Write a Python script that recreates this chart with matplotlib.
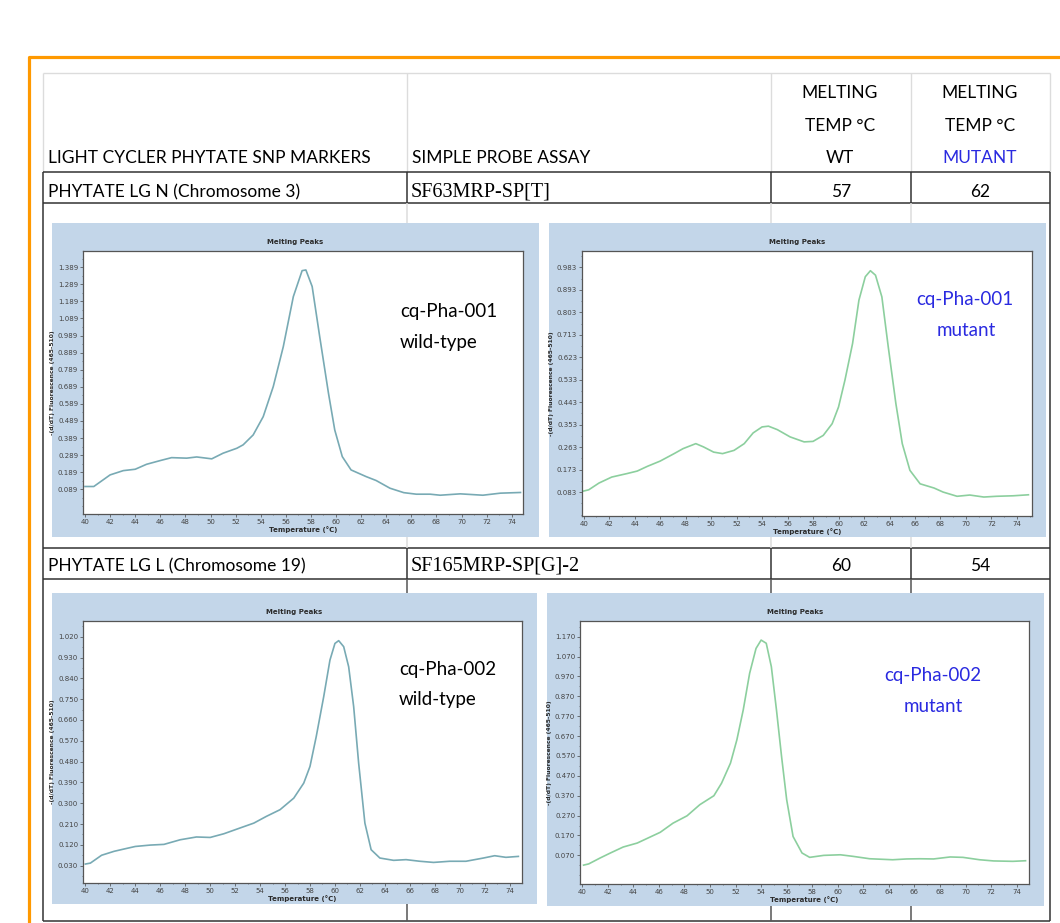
import matplotlib
matplotlib.use('Agg')
import matplotlib.pyplot as plt
from matplotlib.ticker import AutoMinorLocator

W, H = 1060, 923

# table text
header_cols = ['LIGHT CYCLER PHYTATE SNP MARKERS', 'SIMPLE PROBE ASSAY']
melt_header = ['MELTING', 'TEMP °C']
markers = ['PHYTATE LG N (Chromosome 3)', 'PHYTATE LG L (Chromosome 19)']
assays = ['SF63MRP-SP[T]', 'SF165MRP-SP[G]-2']
tm_wt = [57, 60]
tm_mut = [62, 54]

# melting peak curves
wt1_t = [40.0, 40.7, 42.0, 43.05, 44.0, 44.9, 46.0, 46.9, 48.1, 48.9, 50.1, 51.0, 52.1, 52.6,
         53.4, 54.2, 55.0, 55.8, 56.6, 57.3, 57.6, 58.1, 58.7, 59.4, 59.9, 60.5, 61.2, 62.4,
         63.2, 64.3, 65.4, 66.4, 67.5, 68.3, 69.9, 71.7, 73.1, 74.7]
wt1_v = [0.105, 0.105, 0.173, 0.198, 0.206, 0.235, 0.257, 0.274, 0.271, 0.278, 0.267, 0.300,
         0.329, 0.349, 0.407, 0.514, 0.690, 0.924, 1.217, 1.369, 1.373, 1.276, 0.983, 0.651,
         0.436, 0.280, 0.202, 0.163, 0.140, 0.095, 0.069, 0.060, 0.060, 0.054, 0.062, 0.054,
         0.066, 0.070]

mut1_t = [40.0, 40.4, 41.2, 42.2, 43.4, 44.2, 45.0, 46.0, 47.1, 47.8, 48.8, 49.4, 50.2, 50.9,
          51.8, 52.6, 53.3, 54.0, 54.5, 55.2, 56.2, 57.3, 58.0, 58.8, 59.5, 60.0, 60.5, 61.1,
          61.6, 62.1, 62.5, 62.9, 63.4, 63.9, 64.5, 65.0, 65.6, 66.4, 67.5, 68.2, 69.3, 70.3,
          71.4, 72.4, 73.7, 74.9]
mut1_v = [0.087, 0.092, 0.119, 0.143, 0.157, 0.167, 0.186, 0.207, 0.237, 0.257, 0.277, 0.264,
          0.243, 0.237, 0.250, 0.277, 0.320, 0.344, 0.347, 0.333, 0.304, 0.284, 0.286, 0.310,
          0.357, 0.424, 0.531, 0.678, 0.852, 0.946, 0.970, 0.952, 0.865, 0.665, 0.437, 0.277,
          0.170, 0.116, 0.099, 0.083, 0.066, 0.071, 0.063, 0.066, 0.068, 0.072]

wt2_t = [40.0, 40.4, 41.3, 42.3, 43.1, 44.0, 45.2, 46.3, 47.6, 48.9, 50.0, 51.1, 52.4, 53.5,
         54.5, 55.6, 56.7, 57.5, 58.0, 58.5, 59.1, 59.6, 60.0, 60.3, 60.7, 61.1, 61.5, 61.9,
         62.4, 62.9, 63.6, 64.7, 65.7, 66.8, 67.9, 69.2, 70.5, 71.9, 72.8, 73.7, 74.7]
wt2_v = [0.037, 0.041, 0.075, 0.092, 0.102, 0.113, 0.119, 0.122, 0.142, 0.154, 0.152, 0.168,
         0.193, 0.214, 0.243, 0.272, 0.322, 0.387, 0.459, 0.588, 0.761, 0.919, 0.991, 1.003,
         0.977, 0.890, 0.718, 0.473, 0.214, 0.099, 0.063, 0.053, 0.056, 0.049, 0.044, 0.049,
         0.049, 0.063, 0.073, 0.066, 0.070]

mut2_t = [40.1, 40.5, 41.4, 42.2, 43.2, 44.3, 45.3, 46.1, 47.1, 48.2, 49.2, 50.3, 50.9, 51.6,
          52.1, 52.6, 53.1, 53.6, 54.0, 54.4, 54.8, 55.2, 55.6, 56.0, 56.5, 57.2, 57.8, 58.9,
          60.2, 61.2, 62.5, 64.3, 65.4, 66.4, 67.5, 68.8, 69.8, 71.1, 72.2, 73.7, 74.7]
mut2_v = [0.021, 0.027, 0.057, 0.082, 0.112, 0.132, 0.162, 0.186, 0.232, 0.269, 0.325, 0.370,
          0.433, 0.534, 0.651, 0.802, 0.986, 1.111, 1.153, 1.137, 1.019, 0.802, 0.567, 0.350,
          0.165, 0.082, 0.060, 0.070, 0.073, 0.065, 0.053, 0.048, 0.052, 0.053, 0.052, 0.062,
          0.060, 0.048, 0.042, 0.040, 0.043]

wt1_yticks = [0.089, 0.189, 0.289, 0.389, 0.489, 0.589, 0.689, 0.789, 0.889, 0.989, 1.089, 1.189, 1.289, 1.389]
mut1_yticks = [0.083, 0.173, 0.263, 0.353, 0.443, 0.533, 0.623, 0.713, 0.803, 0.893, 0.983]
wt2_yticks = [0.030, 0.120, 0.210, 0.300, 0.390, 0.480, 0.570, 0.660, 0.750, 0.840, 0.930, 1.020]
mut2_yticks = [0.070, 0.170, 0.270, 0.370, 0.470, 0.570, 0.670, 0.770, 0.870, 0.970, 1.070, 1.170]
temp_ticks = [40, 42, 44, 46, 48, 50, 52, 54, 56, 58, 60, 62, 64, 66, 68, 70, 72, 74]

BLUE = '#2a2ae0'
DARK = '#333333'
LIGHT = '#dcdcdc'
SANS = ['Lato', 'DejaVu Sans']
SERIF = ['Liberation Serif', 'DejaVu Serif']


def fig_rect(x0, y0, x1, y1):
    return [x0 / W, 1 - y1 / H, (x1 - x0) / W, (y1 - y0) / H]


fig = plt.figure(figsize=(W / 100, H / 100), dpi=100)
ax0 = fig.add_axes([0, 0, 1, 1])
ax0.set_xlim(0, W)
ax0.set_ylim(H, 0)
ax0.axis('off')

# orange frame
ax0.plot([28.5, 28.5, W + 5], [H + 5, 56.5, 56.5], color='#ff9900', lw=2.3, clip_on=False)

# table grid
cols = [43, 407, 771, 911, 1050]
ax0.hlines(73, cols[0], cols[-1], color=LIGHT, lw=1)
for x in cols:
    ax0.vlines(x, 73, 172, color=LIGHT, lw=1)
for y in [172, 203, 548, 579, 921]:
    ax0.hlines(y, cols[0], cols[-1], color=DARK, lw=1.1)
for x in cols:
    ax0.vlines(x, 172, 203, color=DARK, lw=1.1)
    ax0.vlines(x, 548, 579, color=DARK, lw=1.1)
    ax0.vlines(x, 203, 548, color=DARK if x in (cols[0], cols[-1]) else LIGHT, lw=1.1)
    ax0.vlines(x, 579, 921, color=DARK if x in (cols[0], cols[-1]) else '#555555', lw=1.1)

# header text
ax0.text(48, 163, header_cols[0], fontsize=12.5, family=SANS, va='baseline')
ax0.text(412, 163, header_cols[1], fontsize=12.5, family=SANS, va='baseline')
for cx, last, col in [(840, 'WT', 'black'), (980, 'MUTANT', BLUE)]:
    ax0.text(cx, 98, melt_header[0], fontsize=12.5, family=SANS, ha='center', va='baseline')
    ax0.text(cx, 131, melt_header[1], fontsize=12.5, family=SANS, ha='center', va='baseline')
    ax0.text(cx, 163, last, fontsize=12.5, family=SANS, ha='center', va='baseline', color=col)

for base, marker, assay, wt, mut in zip([197, 571], markers, assays, tm_wt, tm_mut):
    ax0.text(48, base, marker, fontsize=12.5, family=SANS, va='baseline')
    ax0.text(411, base, assay, fontsize=14.5, family=SERIF, va='baseline')
    ax0.text(841, base, str(wt), fontsize=12.5, family=SANS, ha='center', va='baseline')
    ax0.text(980, base, str(mut), fontsize=12.5, family=SANS, ha='center', va='baseline')

panels = [
    ((52, 223, 539, 537), (83, 251, 523, 514), wt1_t, wt1_v, wt1_yticks, (39.84, 74.9), (-0.056, 1.484), '#78aab4'),
    ((549, 223, 1046, 537), (582, 251, 1032, 516), mut1_t, mut1_v, mut1_yticks, (39.87, 75.18), (-0.013, 1.049), '#8ccf9e'),
    ((52, 593, 537, 904), (83, 621, 522, 883), wt2_t, wt2_v, wt2_yticks, (39.81, 74.99), (-0.045, 1.088), '#78aab4'),
    ((547, 593, 1044, 906), (580, 621, 1029, 884), mut2_t, mut2_v, mut2_yticks, (39.82, 74.97), (-0.074, 1.249), '#8ccf9e'),
]

for bg, pr, t, v, yt, xl, yl, lc in panels:
    axb = fig.add_axes(fig_rect(*bg))
    axb.set_facecolor('#c3d6e9')
    axb.set_xticks([])
    axb.set_yticks([])
    for s in axb.spines.values():
        s.set_visible(False)
    axb.text(0.5, 1 - 19 / (bg[3] - bg[1]), 'Melting Peaks', transform=axb.transAxes,
             ha='center', va='center', fontsize=5, fontweight='bold', color='#2a2a2a')

    ax = fig.add_axes(fig_rect(*pr))
    ax.plot(t, v, color=lc, lw=1.2, solid_joinstyle='round')
    ax.set_xlim(*xl)
    ax.set_ylim(*yl)
    ax.set_xticks(temp_ticks)
    ax.set_yticks(yt)
    ax.set_yticklabels(['%.3f' % y for y in yt])
    ax.xaxis.set_minor_locator(AutoMinorLocator(2))
    ax.yaxis.set_minor_locator(AutoMinorLocator(2))
    ax.tick_params(labelsize=5, length=2, width=0.5, colors='#444444', pad=1.5)
    ax.tick_params(which='minor', length=1, width=0.4, colors='#444444')
    for s in ax.spines.values():
        s.set_color('#555555')
        s.set_linewidth(0.9)
    ax.set_xlabel('Temperature (°C)', fontsize=5, fontweight='bold', labelpad=1, color='#2a2a2a')
    ax.set_ylabel('-(d/dT) Fluorescence (465-510)', fontsize=4.3, fontweight='bold', labelpad=2, color='#2a2a2a')

# sample labels
ax_top = fig.add_axes([0, 0, 1, 1], facecolor='none')
ax_top.set_xlim(0, W)
ax_top.set_ylim(H, 0)
ax_top.axis('off')
ax_top.text(400, 317, 'cq-Pha-001', fontsize=13.5, family=SANS, va='baseline')
ax_top.text(400, 348, 'wild-type', fontsize=13.5, family=SANS, va='baseline')
ax_top.text(965, 305, 'cq-Pha-001', fontsize=13.5, family=SANS, va='baseline', ha='center', color=BLUE)
ax_top.text(966, 336, 'mutant', fontsize=13.5, family=SANS, va='baseline', ha='center', color=BLUE)
ax_top.text(399, 675, 'cq-Pha-002', fontsize=13.5, family=SANS, va='baseline')
ax_top.text(399, 705, 'wild-type', fontsize=13.5, family=SANS, va='baseline')
ax_top.text(933, 681, 'cq-Pha-002', fontsize=13.5, family=SANS, va='baseline', ha='center', color=BLUE)
ax_top.text(933, 712, 'mutant', fontsize=13.5, family=SANS, va='baseline', ha='center', color=BLUE)

fig.savefig('out.png', dpi=100)
